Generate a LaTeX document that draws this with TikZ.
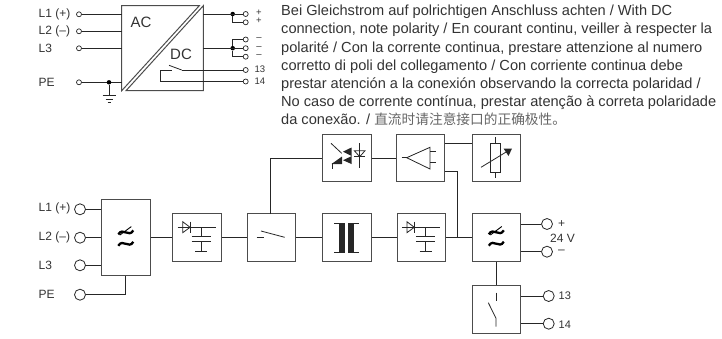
\documentclass[tikz,border=0pt]{standalone}
\usepackage{fontspec}
\setmainfont{Liberation Sans}
\newfontfamily\cjk{Noto Sans CJK SC}
\definecolor{inkline}{gray}{0.15}
\definecolor{boxline}{gray}{0.3}
\definecolor{inktext}{gray}{0.2}
\tikzset{
  unitbox/.style={draw=boxline,line width=1pt,minimum width=48.5pt,minimum height=47.5pt,inner sep=0pt},
  pin/.style={draw=inkline,fill=white,circle,line width=0.8pt,minimum size=11pt,inner sep=0pt},
  smallpin/.style={draw=inkline,fill=white,circle,line width=0.7pt,minimum size=5pt,inner sep=0pt},
  dotmark/.style={fill=black,circle,minimum size=4.5pt,inner sep=0pt},
  wire/.style={draw=inkline,line width=0.8pt},
  symb/.style={draw=inkline,line width=0.8pt},
  lab/.style={text=inktext,inner sep=0pt,font=\fontsize{12}{14}\selectfont},
  smalllab/.style={text=inktext,inner sep=0pt,font=\fontsize{9.5}{11}\selectfont},
  wavesign/.pic={
    \draw [line width=2.3pt] (-7.5,-3.2) .. controls (-3,-11) and (3,0.6) .. (7.5,-7.2);
    \draw [line width=0.9pt] (-6,-2.5) -- (5.5,-11);
    \draw [line width=2.3pt] (-7.5,8.2) .. controls (-3,0.4) and (3,12) .. (7.5,4.2);
  },
  rectsign/.pic={
    \draw [symb] (-19.4,-10.2) -- (19,-10.2);
    \draw [symb] (-14.4,-15.8) -- (-14.4,-4.8) -- (-7,-10.2) -- cycle;
    \draw [symb] (-7,-15.8) -- (-7,-4.8);
    \draw [symb] (3.9,-10.2) -- (3.9,-0.8);
    \draw [symb] (-5.4,-0.8) -- (13.6,-0.8);
    \draw [symb] (-5.4,3.5) -- (13.6,3.5);
    \draw [symb] (3.9,3.5) -- (3.9,13.8);
    \draw [symb] (-1.8,13.8) -- (10.2,13.8);
  },
}
\begin{document}
\begin{tikzpicture}[x=1pt,y=-1pt]
\useasboundingbox (0,0) rectangle (722,338);

% Drawing AC/DC converter at the top
\draw [draw=boxline,line width=1pt] (121.7,90.7) -- (121.7,5.7) -- (199.3,5.7) -- cycle;
\draw [draw=boxline,line width=1pt] (126,90.7) -- (203.3,90.7) -- (203.3,5.7) -- cycle;
\node (tAC) [inner sep=0pt,text=inktext,font=\fontsize{15}{17}\selectfont] at (141,22) {AC};
\node (tDC) [inner sep=0pt,text=inktext,font=\fontsize{15}{17}\selectfont] at (181,54) {DC};
\coordinate (tleft) at (121.7,48);
\coordinate (tright) at (203.3,48);

% Marking top inputs
\node (tL1) [smallpin] at (79,14.3) {};
\node (tL2) [smallpin] at (79,31.3) {};
\node (tL3) [smallpin] at (79,48.3) {};
\node (tPE) [smallpin] at (79,82.3) {};
\node (tL1lab) [lab,anchor=west] at (38.5,14) {L1 (+)};
\node (tL2lab) [lab,anchor=west] at (38.5,31) {L2 (–)};
\node (tL3lab) [lab,anchor=west] at (38.5,48) {L3};
\node (tPElab) [lab,anchor=west] at (38.5,82) {PE};
\draw [wire] (tL1) -- (tL1 -| tleft);
\draw [wire] (tL2) -- (tL2 -| tleft);
\draw [wire] (tL3) -- (tL3 -| tleft);
\draw [wire] (tPE) -- (tPE -| tleft);

% Drawing earth
\node (tEarth) [dotmark] at (109,82.3) {};
\coordinate (tGnd) at (109,95.5);
\draw [wire] (tEarth) -- (tGnd);
\draw [wire] (102.7,95.5) -- (115.7,95.5);
\draw [wire] (105.5,99.3) -- (113,99.3);
\draw [wire] (107.5,102.3) -- (111,102.3);

% Marking top outputs
\node (tP1) [smallpin] at (245.7,14) {};
\node (tP2) [smallpin] at (245.7,22.3) {};
\node (tM1) [smallpin] at (245.7,39.5) {};
\node (tM2) [smallpin] at (245.7,48.2) {};
\node (tM3) [smallpin] at (245.7,56.7) {};
\node (t13) [smallpin] at (245.7,70) {};
\node (t14) [smallpin] at (245.7,81.5) {};
\node (tJp) [dotmark] at (232.7,14) {};
\node (tJm) [dotmark] at (232.7,48.2) {};
\draw [wire] (tP1 -| tright) -- (tP1);
\draw [wire] (tJp) |- (tP2);
\draw [wire] (tM2 -| tright) -- (tM2);
\draw [wire] (tM1) -| (tJm);
\draw [wire] (tM3) -| (tJm);
\node (tP1lab) [smalllab] at (259,12.7) {+};
\node (tP2lab) [smalllab] at (259,21) {+};
\node (tM1lab) [smalllab] at (259,39.3) {–};
\node (tM2lab) [smalllab] at (259,48) {–};
\node (tM3lab) [smalllab] at (259,56) {–};
\node (t13lab) [smalllab,anchor=west] at (254.5,69.5) {13};
\node (t14lab) [smalllab,anchor=west] at (254.5,81.5) {14};

% Drawing relay contact
\coordinate (tBlade) at (181.7,70);
\coordinate (tHook) at (160.5,70);
\draw [wire] (tBlade) -- (t13);
\draw [wire] (169,65.3) -- (tBlade);
\draw [wire] (171.7,70) -- (tHook) -- (160.5,81.5) -- (t14);

% Drawing note
\node (note) [anchor=north west,align=left,inner sep=0pt,text=inktext,font=\fontsize{14.6}{18.2}\selectfont] at (281,5) {Bei Gleichstrom auf polrichtigen Anschluss achten / With DC\\
connection, note polarity / En courant continu, veiller à respecter la\\
polarité / Con la corrente continua, prestare attenzione al numero\\
corretto di poli del collegamento / Con corriente continua debe\\
prestar atención a la conexión observando la correcta polaridad /\\
No caso de corrente contínua, prestar atenção à correta polaridade\\
da conexão. / {\cjk\fontsize{13.7}{18.2}\selectfont\color{black!60}直流时请注意接口的正确极性。}};

% Drawing block boxes
\node (filter) [unitbox,minimum height=76pt] at (125.8,237.6) {};
\node (rect) [unitbox] at (197.1,237.5) {};
\node (switch) [unitbox] at (271.7,237.5) {};
\node (trafo) [unitbox] at (346.8,237.5) {};
\node (rectb) [unitbox] at (421.3,237.5) {};
\node (reg) [unitbox] at (496.3,237.5) {};
\node (opto) [unitbox] at (346.8,158) {};
\node (amp) [unitbox] at (420.5,158) {};
\node (pot) [unitbox] at (496.3,158) {};
\node (relay) [unitbox] at (496.3,309.5) {};

% Marking block inputs
\node (L1) [pin] at (80,209.3) {};
\node (L2) [pin] at (80,237.7) {};
\node (L3) [pin] at (80,265.3) {};
\node (PE) [pin] at (80,294.7) {};
\node (L1lab) [lab,anchor=west] at (38.5,208) {L1 (+)};
\node (L2lab) [lab,anchor=west] at (38.5,237) {L2 (–)};
\node (L3lab) [lab,anchor=west] at (38.5,265) {L3};
\node (PElab) [lab,anchor=west] at (38.5,294) {PE};

% Marking block outputs
\node (Vp) [pin] at (547,224) {};
\node (Vm) [pin] at (547,251.7) {};
\node (R13) [pin] at (548.7,296) {};
\node (R14) [pin] at (548.7,323.7) {};
\node (Vplab) [lab,anchor=west] at (558,224.5) {+};
\node (Vmlab) [lab,anchor=west] at (558,251.7) {–};
\node (Vlab) [lab] at (562.5,238.5) {24 V};
\node (R13lab) [lab,anchor=west,font=\fontsize{11}{13}\selectfont] at (558.5,296) {13};
\node (R14lab) [lab,anchor=west,font=\fontsize{11}{13}\selectfont] at (558.5,324.5) {14};

% Drawing connections
\draw [wire] (L1) -- (L1 -| filter.west);
\draw [wire] (L2) -- (L2 -| filter.west);
\draw [wire] (L3) -- (L3 -| filter.west);
\draw [wire] (PE) -| (filter.south);
\draw [wire] (rect.west -| filter.east) -- (rect.west);
\draw [wire] (rect) -- (switch);
\draw [wire] (switch) -- (trafo);
\draw [wire] (trafo) -- (rectb);
\draw [wire] (rectb) -- (reg);
\coordinate (switchTop) at (270,214);
\draw [wire] (switchTop) |- (opto.west);
\draw [wire] (opto) -- (amp);
\coordinate (ampTop) at (445,143.3);
\coordinate (ampLow) at (445,171.7);
\coordinate (busJoin) at (457.7,237.5);
\draw [wire] (ampTop) -- (ampTop -| pot.west);
\draw [wire] (ampLow) -| (busJoin);
\draw [wire] (reg.south) -- (relay.north);
\draw [wire] (Vp -| reg.east) -- (Vp);
\draw [wire] (Vm -| reg.east) -- (Vm);
\draw [wire] (R13 -| relay.east) -- (R13);
\draw [wire] (R14 -| relay.east) -- (R14);

% Drawing block symbols
\pic at (filter.center) {wavesign};
\pic at (reg.center) {wavesign};
\pic at (rect.center) {rectsign};
\pic at (rectb.center) {rectsign};

% Drawing open contact of switch
\draw [symb] (256.7,237) -- (263.7,237);
\draw [symb] (261,231) -- (284.7,237.3);

% Drawing transformer
\fill [inkline] (339,223) rectangle (345,252);
\fill [inkline] (348,223) rectangle (354,252);
\draw [symb] (334,223) -- (345,223);
\draw [symb] (334,252) -- (345,252);
\draw [symb] (348,223) -- (358.5,223);
\draw [symb] (348,252) -- (358.5,252);

% Drawing optocoupler
\draw [symb] (331,143.3) -- (341.7,153.3);
\fill [inkline] (331.5,164) -- (342,156.5) -- (342,164) -- cycle;
\draw [symb] (332.3,163.3) -- (332.3,169);
\fill [inkline] (343,151.7) -- (351.5,147.5) -- (351.5,156) -- cycle;
\fill [inkline] (343,160.2) -- (351.5,156.2) -- (351.5,164) -- cycle;
\draw [symb] (354.3,150.7) -- (365,150.7) -- (359.7,156.7) -- cycle;
\draw [symb] (354.3,156.7) -- (365,156.7);
\draw [symb] (359.7,143.3) -- (359.7,168.3);

% Drawing amplifier
\draw [symb] (406.7,157.7) -- (430,147.3) -- (430,169) -- cycle;
\draw [symb] (401.7,157.7) -- (406.7,157.7);
\draw [symb] (430,151.7) -- (435.7,151.7);
\draw [symb] (430,162.3) -- (435.7,162.3);

% Drawing adjustable resistor
\draw [symb] (490,143.3) rectangle (500.7,172.7);
\draw [symb] (495.3,137.3) -- (495.3,143.3);
\draw [symb] (495.3,172.7) -- (495.3,177.7);
\draw [symb] (481,167.3) -- (508.3,150.7);
\fill [inkline] (503.5,148.5) -- (512,148.5) -- (508.5,156) -- cycle;

% Drawing relay contact
\draw [symb] (496,292.7) -- (496,301);
\draw [symb] (488.3,302.7) -- (496,318.3) -- (496,326.7);
\end{tikzpicture}
\end{document}
